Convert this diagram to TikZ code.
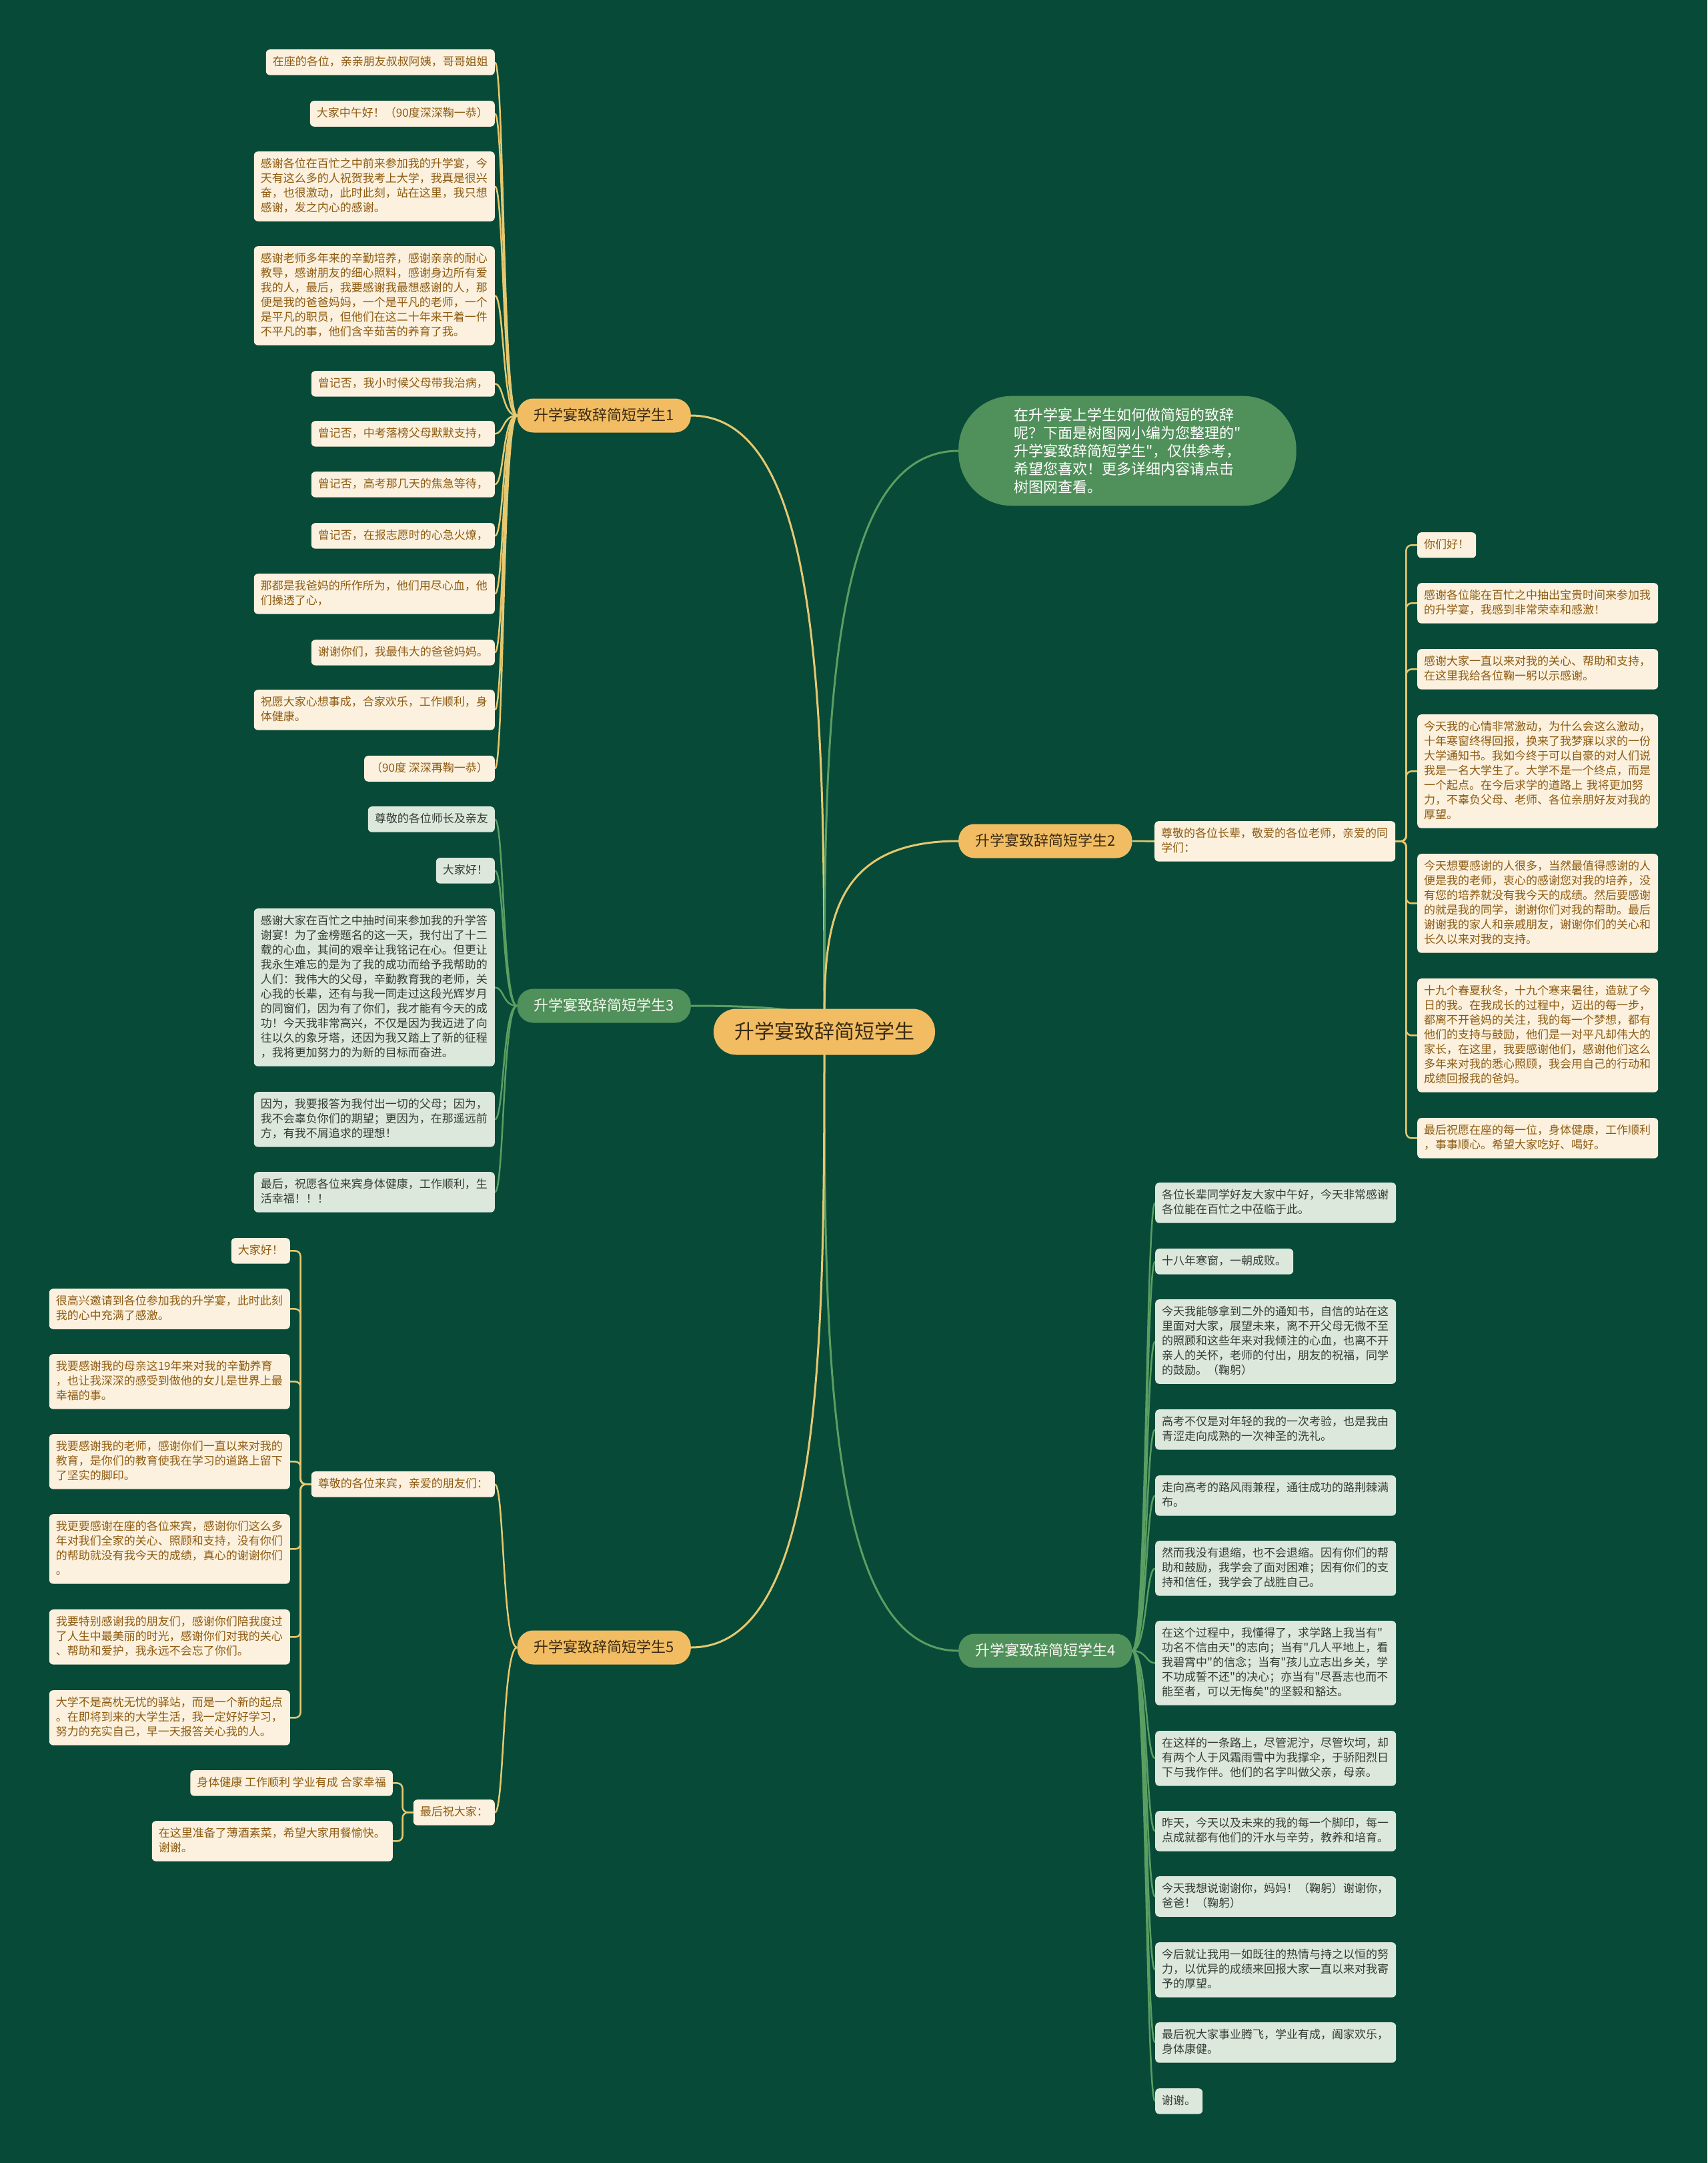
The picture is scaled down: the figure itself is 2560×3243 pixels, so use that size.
\documentclass[tikz,border=0pt]{standalone}
\usepackage{fontspec}
\setmainfont{Noto Sans CJK SC}[Ligatures=TeXOff]
\usetikzlibrary{backgrounds,calc}
\definecolor{bgc}{HTML}{084A38}
\definecolor{ylinec}{HTML}{E6C870}
\definecolor{glinec}{HTML}{5A9E62}
\definecolor{orfill}{HTML}{F2BD62}
\definecolor{ortext}{HTML}{3A2A12}
\definecolor{grfill}{HTML}{50905A}
\definecolor{grtext}{HTML}{F5F5EE}
\definecolor{ylfill}{HTML}{FBF1DE}
\definecolor{yltext}{HTML}{8E5B12}
\definecolor{glfill}{HTML}{DDE8DD}
\definecolor{gltext}{HTML}{333D36}
\newcommand{\mmMain}[3]{\draw[#1] (ctr.center) .. controls ($(ctr.center)!0.5!(ctr.center|-#2.#3)$) and (ctr.center|-#2.#3) .. (#2.#3);}
\newcommand{\mmL}[3]{\draw[#1] (#2.west) .. controls +(-22,0) and +(14,0) .. (#3.east);}
\newcommand{\mmR}[3]{\draw[#1] (#2.east) .. controls +(22,0) and +(-14,0) .. (#3.west);}
\newcommand{\mmEL}[3]{\draw[#1,rounded corners=8pt] (#2.west) -- ++(-16,0) |- (#3.east);}
\newcommand{\mmER}[3]{\draw[#1,rounded corners=8pt] (#2.east) -- ++(16,0) |- (#3.west);}
\begin{document}
\begin{tikzpicture}[x=1pt,y=-1pt,
 yleaf/.style={fill=ylfill, text=yltext, rounded corners=6pt, inner xsep=10pt, inner ysep=10pt, align=left,
   font=\fontsize{17pt}{22pt}\selectfont,
   execute at begin node={\setlength{\parindent}{0pt}\rule{0pt}{14pt}},
   execute at end node={\rule[-4pt]{0pt}{4pt}}},
 gleaf/.style={yleaf, fill=glfill, text=gltext},
 wide/.style={text width=341pt},
 obr/.style={fill=orfill, text=ortext, rounded corners=24pt, inner xsep=25pt, inner ysep=14.5pt,
   text height=18.5pt, text depth=3.5pt, font=\fontsize{22pt}{26pt}\selectfont},
 gbr/.style={obr, fill=grfill, text=grtext},
 ycon/.style={draw=ylinec, line width=2.5pt},
 gcon/.style={draw=glinec, line width=2.5pt},
 ymain/.style={draw=ylinec, line width=3pt},
 gmain/.style={draw=glinec, line width=3pt}]
\useasboundingbox (0,0) rectangle (2560,3243);

% centre
\node[fill=orfill, text=ortext, rounded corners=34pt, inner xsep=31pt, inner ysep=19.5pt,
  text height=25pt, text depth=5pt, font=\fontsize{30pt}{36pt}\selectfont] (ctr) at (1236,1547) {升学宴致辞简短学生};

% intro
\node[fill=grfill, text=white, rounded corners=80pt, inner xsep=83pt, inner ysep=18pt, align=left,
  font=\fontsize{22pt}{27pt}\selectfont, anchor=west] (intro) at (1437,676)
  {在升学宴上学生如何做简短的致辞\\呢？下面是树图网小编为您整理的"\\升学宴致辞简短学生"，仅供参考，\\希望您喜欢！更多详细内容请点击\\树图网查看。};

% branches
\node[obr, anchor=east] (b1) at (1036,623) {升学宴致辞简短学生1};
\node[obr, anchor=west] (b2) at (1437,1261) {升学宴致辞简短学生2};
\node[gbr, anchor=east] (b3) at (1036,1508) {升学宴致辞简短学生3};
\node[gbr, anchor=west] (b4) at (1437,2475) {升学宴致辞简短学生4};
\node[obr, anchor=east] (b5) at (1036,2470) {升学宴致辞简短学生5};

% branch 1 leaves
\node[yleaf, anchor=north east] (a1) at (742,74) {在座的各位，亲亲朋友叔叔阿姨，哥哥姐姐};
\node[yleaf, anchor=north east] (a2) at (742,151) {大家中午好！（90度深深鞠一恭）};
\node[yleaf, wide, anchor=north east] (a3) at (742,227) {感谢各位在百忙之中前来参加我的升学宴，今\\天有这么多的人祝贺我考上大学，我真是很兴\\奋，也很激动，此时此刻，站在这里，我只想\\感谢，发之内心的感谢。};
\node[yleaf, wide, anchor=north east] (a4) at (742,369) {感谢老师多年来的辛勤培养，感谢亲亲的耐心\\教导，感谢朋友的细心照料，感谢身边所有爱\\我的人，最后，我要感谢我最想感谢的人，那\\便是我的爸爸妈妈，一个是平凡的老师，一个\\是平凡的职员，但他们在这二十年来干着一件\\不平凡的事，他们含辛茹苦的养育了我。};
\node[yleaf, anchor=north east] (a5) at (742,556) {曾记否，我小时候父母带我治病，};
\node[yleaf, anchor=north east] (a6) at (742,631) {曾记否，中考落榜父母默默支持，};
\node[yleaf, anchor=north east] (a7) at (742,707) {曾记否，高考那几天的焦急等待，};
\node[yleaf, anchor=north east] (a8) at (742,784) {曾记否，在报志愿时的心急火燎，};
\node[yleaf, wide, anchor=north east] (a9) at (742,860) {那都是我爸妈的所作所为，他们用尽心血，他\\们操透了心，};
\node[yleaf, anchor=north east] (a10) at (742,959) {谢谢你们，我最伟大的爸爸妈妈。};
\node[yleaf, wide, anchor=north east] (a11) at (742,1034) {祝愿大家心想事成，合家欢乐，工作顺利，身\\体健康。};
\node[yleaf, anchor=north east] (a12) at (742,1133) {（90度 深深再鞠一恭）};

% branch 3 leaves
\node[gleaf, anchor=north east] (c1) at (742,1209) {尊敬的各位师长及亲友};
\node[gleaf, anchor=north east] (c2) at (742,1286) {大家好！};
\node[gleaf, wide, anchor=north east] (c3) at (742,1362) {感谢大家在百忙之中抽时间来参加我的升学答\\谢宴！为了金榜题名的这一天，我付出了十二\\载的心血，其间的艰辛让我铭记在心。但更让\\我永生难忘的是为了我的成功而给予我帮助的\\人们：我伟大的父母，辛勤教育我的老师，关\\心我的长辈，还有与我一同走过这段光辉岁月\\的同窗们，因为有了你们，我才能有今天的成\\功！今天我非常高兴，不仅是因为我迈进了向\\往以久的象牙塔，还因为我又踏上了新的征程\\，我将更加努力的为新的目标而奋进。};
\node[gleaf, wide, anchor=north east] (c4) at (742,1637) {因为，我要报答为我付出一切的父母；因为，\\我不会辜负你们的期望；更因为，在那遥远前\\方，有我不屑追求的理想！};
\node[gleaf, wide, anchor=north east] (c5) at (742,1757) {最后，祝愿各位来宾身体健康，工作顺利，生\\活幸福！！！};

% branch 5
\node[yleaf, anchor=north east] (s1) at (742,2206) {尊敬的各位来宾，亲爱的朋友们：};
\node[yleaf, anchor=north east] (s2) at (742,2698) {最后祝大家：};
\node[yleaf, anchor=north east] (e1) at (435,1856) {大家好！};
\node[yleaf, wide, anchor=north east] (e2) at (435,1932) {很高兴邀请到各位参加我的升学宴，此时此刻\\我的心中充满了感激。};
\node[yleaf, wide, anchor=north east] (e3) at (435,2030) {我要感谢我的母亲这19年来对我的辛勤养育\\，也让我深深的感受到做他的女儿是世界上最\\幸福的事。};
\node[yleaf, wide, anchor=north east] (e4) at (435,2150) {我要感谢我的老师，感谢你们一直以来对我的\\教育，是你们的教育使我在学习的道路上留下\\了坚实的脚印。};
\node[yleaf, wide, anchor=north east] (e5) at (435,2270) {我更要感谢在座的各位来宾，感谢你们这么多\\年对我们全家的关心、照顾和支持，没有你们\\的帮助就没有我今天的成绩，真心的谢谢你们\\。};
\node[yleaf, wide, anchor=north east] (e6) at (435,2413) {我要特别感谢我的朋友们，感谢你们陪我度过\\了人生中最美丽的时光，感谢你们对我的关心\\、帮助和爱护，我永远不会忘了你们。};
\node[yleaf, wide, anchor=north east] (e7) at (435,2534) {大学不是高枕无忧的驿站，而是一个新的起点\\。在即将到来的大学生活，我一定好好学习，\\努力的充实自己，早一天报答关心我的人。};
\node[yleaf, anchor=north east] (f1) at (589,2654) {身体健康 工作顺利 学业有成 合家幸福};
\node[yleaf, wide, anchor=north east] (f2) at (589,2730) {在这里准备了薄酒素菜，希望大家用餐愉快。\\谢谢。};

% branch 2
\node[yleaf, wide, anchor=north west] (d0) at (1731,1231) {尊敬的各位长辈，敬爱的各位老师，亲爱的同\\学们：};
\node[yleaf, anchor=north west] (d1) at (2125,798) {你们好！};
\node[yleaf, wide, anchor=north west] (d2) at (2125,874) {感谢各位能在百忙之中抽出宝贵时间来参加我\\的升学宴，我感到非常荣幸和感激！};
\node[yleaf, wide, anchor=north west] (d3) at (2125,973) {感谢大家一直以来对我的关心、帮助和支持，\\在这里我给各位鞠一躬以示感谢。};
\node[yleaf, wide, anchor=north west] (d4) at (2125,1071) {今天我的心情非常激动，为什么会这么激动，\\十年寒窗终得回报，换来了我梦寐以求的一份\\大学通知书。我如今终于可以自豪的对人们说\\我是一名大学生了。大学不是一个终点，而是\\一个起点。在今后求学的道路上 我将更加努\\力，不辜负父母、老师、各位亲朋好友对我的\\厚望。};
\node[yleaf, wide, anchor=north west] (d5) at (2125,1280) {今天想要感谢的人很多，当然最值得感谢的人\\便是我的老师，衷心的感谢您对我的培养，没\\有您的培养就没有我今天的成绩。然后要感谢\\的就是我的同学，谢谢你们对我的帮助。最后\\谢谢我的家人和亲戚朋友，谢谢你们的关心和\\长久以来对我的支持。};
\node[yleaf, wide, anchor=north west] (d6) at (2125,1467) {十九个春夏秋冬，十九个寒来暑往，造就了今\\日的我。在我成长的过程中，迈出的每一步，\\都离不开爸妈的关注，我的每一个梦想，都有\\他们的支持与鼓励，他们是一对平凡却伟大的\\家长，在这里，我要感谢他们，感谢他们这么\\多年来对我的悉心照顾，我会用自己的行动和\\成绩回报我的爸妈。};
\node[yleaf, wide, anchor=north west] (d7) at (2125,1676) {最后祝愿在座的每一位，身体健康，工作顺利\\，事事顺心。希望大家吃好、喝好。};

% branch 4
\node[gleaf, wide, anchor=north west] (g1) at (1732,1773) {各位长辈同学好友大家中午好，今天非常感谢\\各位能在百忙之中莅临于此。};
\node[gleaf, anchor=north west] (g2) at (1732,1872) {十八年寒窗，一朝成败。};
\node[gleaf, wide, anchor=north west] (g3) at (1732,1948) {今天我能够拿到二外的通知书，自信的站在这\\里面对大家，展望未来，离不开父母无微不至\\的照顾和这些年来对我倾注的心血，也离不开\\亲人的关怀，老师的付出，朋友的祝福，同学\\的鼓励。（鞠躬）};
\node[gleaf, wide, anchor=north west] (g4) at (1732,2113) {高考不仅是对年轻的我的一次考验，也是我由\\青涩走向成熟的一次神圣的洗礼。};
\node[gleaf, wide, anchor=north west] (g5) at (1732,2212) {走向高考的路风雨兼程，通往成功的路荆棘满\\布。};
\node[gleaf, wide, anchor=north west] (g6) at (1732,2310) {然而我没有退缩，也不会退缩。因有你们的帮\\助和鼓励，我学会了面对困难；因有你们的支\\持和信任，我学会了战胜自己。};
\node[gleaf, wide, anchor=north west] (g7) at (1732,2430) {在这个过程中，我懂得了，求学路上我当有"\\功名不信由天"的志向；当有"几人平地上，看\\我碧霄中"的信念；当有"孩儿立志出乡关，学\\不功成誓不还"的决心；亦当有"尽吾志也而不\\能至者，可以无悔矣"的坚毅和豁达。};
\node[gleaf, wide, anchor=north west] (g8) at (1732,2595) {在这样的一条路上，尽管泥泞，尽管坎坷，却\\有两个人于风霜雨雪中为我撑伞，于骄阳烈日\\下与我作伴。他们的名字叫做父亲，母亲。};
\node[gleaf, wide, anchor=north west] (g9) at (1732,2715) {昨天，今天以及未来的我的每一个脚印，每一\\点成就都有他们的汗水与辛劳，教养和培育。};
\node[gleaf, wide, anchor=north west] (g10) at (1732,2813) {今天我想说谢谢你，妈妈！（鞠躬）谢谢你，\\爸爸！（鞠躬）};
\node[gleaf, wide, anchor=north west] (g11) at (1732,2912) {今后就让我用一如既往的热情与持之以恒的努\\力，以优异的成绩来回报大家一直以来对我寄\\予的厚望。};
\node[gleaf, wide, anchor=north west] (g12) at (1732,3032) {最后祝大家事业腾飞，学业有成，阖家欢乐，\\身体康健。};
\node[gleaf, anchor=north west] (g13) at (1732,3131) {谢谢。};

\begin{scope}[on background layer]
\fill[bgc] (0,0) rectangle (2560,3243);
% main connectors
\mmMain{ymain}{b1}{east}
\mmMain{gmain}{intro}{west}
\mmMain{ymain}{b2}{west}
\mmMain{gmain}{b3}{east}
\mmMain{gmain}{b4}{west}
\mmMain{ymain}{b5}{east}
% branch 1
\foreach \n in {a1,a2,a3,a4,a5,a6,a7,a8,a9,a10,a11,a12} {\mmL{ycon}{b1}{\n}}
% branch 3
\foreach \n in {c1,c2,c3,c4,c5} {\mmL{gcon}{b3}{\n}}
% branch 5
\mmL{ycon}{b5}{s1}
\mmL{ycon}{b5}{s2}
\foreach \n in {e1,e2,e3,e4,e5,e6,e7} {\mmEL{ycon}{s1}{\n}}
\mmEL{ycon}{s2}{f1}
\mmEL{ycon}{s2}{f2}
% branch 2
\draw[ycon] (b2.east) -- (d0.west);
\foreach \n in {d1,d2,d3,d4,d5,d6,d7} {\mmER{ycon}{d0}{\n}}
% branch 4
\foreach \n in {g1,g2,g3,g4,g5,g6,g7,g8,g9,g10,g11,g12,g13} {\mmR{gcon}{b4}{\n}}
\end{scope}
\end{tikzpicture}
\end{document}
